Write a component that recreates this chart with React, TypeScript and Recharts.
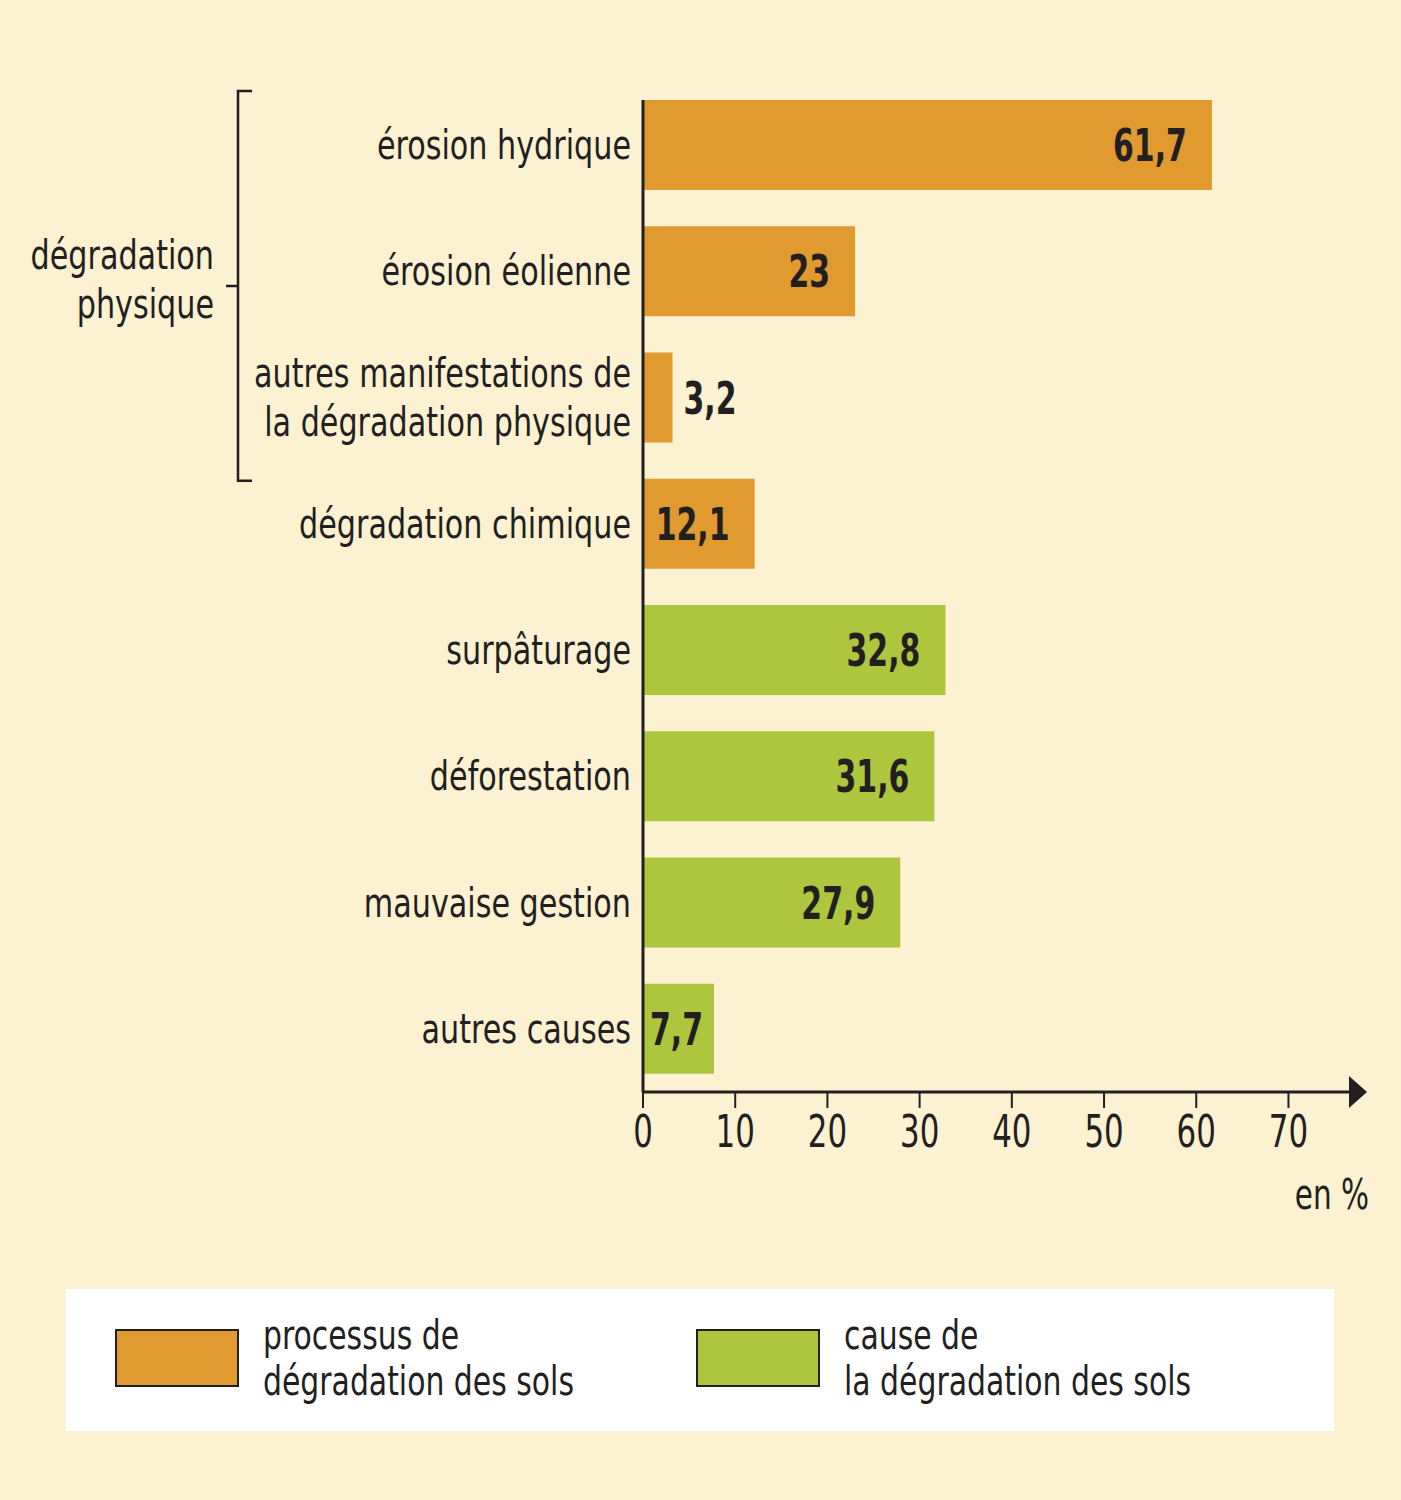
import { Bar, BarChart, LabelList, Legend, ReferenceArea, XAxis, YAxis } from 'recharts'

const categories = [
  'érosion hydrique',
  'érosion éolienne',
  'autres manifestations de\nla dégradation physique',
  'dégradation chimique',
  'surpâturage',
  'déforestation',
  'mauvaise gestion',
  'autres causes',
]
const processus = [61.7, 23, 3.2, 12.1, null, null, null, null]
const causes = [null, null, null, null, 32.8, 31.6, 27.9, 7.7]
const xTicks = [0, 10, 20, 30, 40, 50, 60, 70]
const processusName = 'processus de\ndégradation des sols'
const causeName = 'cause de\nla dégradation des sols'
const legendOrder = ['processus', 'cause']
const groupLabel = ['dégradation', 'physique']
const groupFrom = categories[0]
const groupTo = categories[2]
const unitLabel = 'en %'

// no condensed face installed, so DejaVu Condensed gets squeezed a bit more
const FONT = "'DejaVu Sans Condensed', 'DejaVu Sans', sans-serif"
const INK = '#231f20'
const ORANGE = '#e09a30'
const GREEN = '#aec63e'
const BG = '#fcf1d0'

const data = categories.map((name, i) => ({ name, processus: processus[i], cause: causes[i] }))

function Narrow({ x, y, anchor = 'start', size = 40, weight = 400, sx = 0.84, children }: any) {
  return (
    <text
      transform={`translate(${x},${y}) scale(${sx},1)`}
      textAnchor={anchor}
      fill={INK}
      fontSize={size}
      fontWeight={weight}
      fontFamily={FONT}
    >
      {children}
    </text>
  )
}

function CategoryTick({ x, y, payload }: any) {
  const lines = String(payload.value).split('\n')
  const lh = 49
  const top = y - ((lines.length - 1) * lh) / 2 + 14
  return (
    <Narrow x={x} y={top} anchor="end">
      {lines.map((l, i) => (
        <tspan key={i} x={0} dy={i === 0 ? 0 : lh}>
          {l}
        </tspan>
      ))}
    </Narrow>
  )
}

function NumberTick({ x, y, payload }: any) {
  return (
    <Narrow x={x} y={y + 31} anchor="middle" size={44} sx={0.78}>
      {payload.value}
    </Narrow>
  )
}

function ValueLabel({ x, y, width, height, value }: any) {
  if (value == null) return null
  const text = String(value).replace('.', ',')
  const base = y + height / 2 + 16
  if (value < 5) {
    return (
      <Narrow x={x + width + 11} y={base} size={45} weight={700} sx={0.74}>
        {text}
      </Narrow>
    )
  }
  if (value < 10) {
    return (
      <Narrow x={x + 7} y={base} size={45} weight={700} sx={0.74}>
        {text}
      </Narrow>
    )
  }
  return (
    <Narrow x={x + width - 25} y={base} anchor="end" size={45} weight={700} sx={0.74}>
      {text}
    </Narrow>
  )
}

function AxisEnd({ viewBox }: any) {
  const { x, y, width } = viewBox
  const end = x + width
  return (
    <g>
      <polygon points={`${end - 4},${y - 16} ${end + 14},${y} ${end - 4},${y + 16}`} fill={INK} />
      <Narrow x={end + 16} y={y + 117} anchor="end" size={42} sx={0.78}>
        {unitLabel}
      </Narrow>
    </g>
  )
}

function ValueAxisLine({ x, y, height }: any) {
  return <line x1={x} x2={x} y1={y + 18} y2={y + height} stroke={INK} strokeWidth={3} />
}

function Bracket({ x, y, height }: any) {
  const bx = x - 405
  const top = y + 9
  const bottom = y + height + 20
  const mid = (top + bottom) / 2
  return (
    <g>
      <path
        d={`M${bx + 14},${top} H${bx} V${bottom} H${bx + 14} M${bx},${mid} H${bx - 12}`}
        stroke={INK}
        strokeWidth={2.5}
        fill="none"
      />
      <Narrow x={bx - 24} y={mid - 17} anchor="end">
        {groupLabel[0]}
      </Narrow>
      <Narrow x={bx - 24} y={mid + 32} anchor="end">
        {groupLabel[1]}
      </Narrow>
    </g>
  )
}

function LegendBox({ payload }: any) {
  const items = legendOrder
    .map((k) => (payload || []).find((p: any) => p.dataKey === k))
    .filter(Boolean)
  return (
    <div
      style={{
        background: '#fff',
        width: '100%',
        height: '100%',
        position: 'relative',
        fontFamily: FONT,
        color: INK,
      }}
    >
      {items.map((p: any, i: number) => (
        <div
          key={p.dataKey}
          style={{
            position: 'absolute',
            left: i === 0 ? 49 : 630,
            top: 23,
            display: 'flex',
            alignItems: 'center',
          }}
        >
          <div
            style={{
              width: 120,
              height: 54,
              background: p.color,
              border: `2px solid ${INK}`,
            }}
          />
          <div
            style={{
              marginLeft: 24,
              whiteSpace: 'pre',
              fontSize: 40,
              lineHeight: '46px',
              transform: 'scaleX(0.83)',
              transformOrigin: 'left center',
            }}
          >
            {p.value}
          </div>
        </div>
      ))}
    </div>
  )
}

export default function App() {
  return (
    <div style={{ position: 'absolute', left: 0, top: 0, width: 1401, height: 1500, background: BG }}>
      <BarChart
        width={1401}
        height={1500}
        data={data}
        layout="vertical"
        margin={{ top: 82, right: 48, bottom: 308, left: 0 }}
        barCategoryGap={18}
      >
        <XAxis
          type="number"
          domain={[0, 77]}
          ticks={xTicks}
          allowDataOverflow
          height={100}
          axisLine={{ stroke: INK, strokeWidth: 3 }}
          tickLine={{ stroke: INK, strokeWidth: 2 }}
          tickSize={16}
          tickMargin={8}
          tick={<NumberTick />}
          label={<AxisEnd />}
        />
        <YAxis
          type="category"
          dataKey="name"
          width={643}
          axisLine={false}
          tickLine={false}
          tickSize={0}
          tickMargin={12}
          interval={0}
          tick={<CategoryTick />}
        />
        <Bar dataKey="processus" name={processusName} stackId="a" fill={ORANGE} isAnimationActive={false}>
          <LabelList dataKey="processus" content={<ValueLabel />} />
        </Bar>
        <Bar dataKey="cause" name={causeName} stackId="a" fill={GREEN} isAnimationActive={false}>
          <LabelList dataKey="cause" content={<ValueLabel />} />
        </Bar>
        <ReferenceArea
          y1={categories[0]}
          y2={categories[categories.length - 1]}
          x1={0}
          x2={0}
          ifOverflow="visible"
          isFront
          zIndex={1000}
          shape={<ValueAxisLine />}
        />
        <ReferenceArea
          y1={groupFrom}
          y2={groupTo}
          x1={0}
          x2={1}
          ifOverflow="visible"
          isFront
          zIndex={1000}
          shape={<Bracket />}
        />
        <Legend
          layout="horizontal"
          verticalAlign="middle"
          align="center"
          content={<LegendBox />}
          wrapperStyle={{ position: 'absolute', left: 66, top: 1289, width: 1268, height: 142 }}
        />
      </BarChart>
    </div>
  )
}
